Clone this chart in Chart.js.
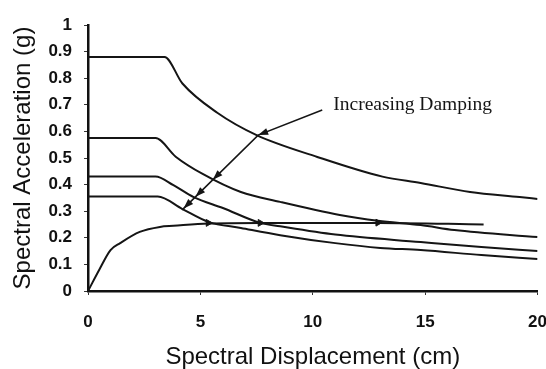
<!DOCTYPE html>
<html>
<head>
<meta charset="utf-8">
<script src="https://cdn.jsdelivr.net/npm/chart.js@4.4.1/dist/chart.umd.min.js"></script>
<style>
  html, body { margin: 0; padding: 0; background: #fff; overflow: hidden; width: 546px; height: 369px; }
  #wrap { position: absolute; left: 0; top: 0; width: 564px; height: 369px; }
</style>
</head>
<body>
<div id="wrap"><canvas id="c" width="564" height="369"></canvas></div>
<script>
// ---- data (Sd in cm, Sa in g) ----
const xTicks = [0, 5, 10, 15, 20];
const yTicks = [0, 0.1, 0.2, 0.3, 0.4, 0.5, 0.6, 0.7, 0.8, 0.9, 1];

const demand1Sd = [0, 3.4, 4.2, 5.75, 7.5, 10.2, 13.1, 14.8, 17.0, 19.2, 20];
const demand1Sa = [0.88, 0.88, 0.78, 0.67, 0.586, 0.504, 0.43, 0.406, 0.372, 0.353, 0.346];

const demand2Sd = [0, 3.0, 3.9, 5.1, 6.8, 8.55, 11.2, 12.9, 14.8, 16.3, 20];
const demand2Sa = [0.575, 0.575, 0.505, 0.44, 0.372, 0.335, 0.286, 0.264, 0.248, 0.229, 0.203];

const demand3Sd = [0, 3.0, 3.8, 4.7, 6.0, 7.66, 8.55, 11.0, 14.8, 17.5, 20];
const demand3Sa = [0.43, 0.43, 0.398, 0.353, 0.312, 0.256, 0.243, 0.212, 0.184, 0.165, 0.150];

const demand4Sd = [0, 3.1, 4.2, 5.35, 6.8, 8.55, 11.0, 13.0, 14.8, 17.5, 20];
const demand4Sa = [0.355, 0.355, 0.308, 0.26, 0.237, 0.21, 0.18, 0.162, 0.154, 0.135, 0.12];

const capacitySd = [0, 0.5, 1.0, 1.43, 2.3, 3.2, 3.8, 5.35, 7.66, 12.9, 17.6];
const capacitySa = [0, 0.08, 0.154, 0.18, 0.222, 0.241, 0.245, 0.254, 0.256, 0.256, 0.25];

const perfSd = [5.35, 7.66, 12.9];
const perfSa = [0.256, 0.256, 0.257];

const annotationText = "Increasing Damping";
const annotationAt = [10.91, 0.70];
const arrowShaft = [[10.42, 0.68], [7.57, 0.586], [4.19, 0.305]];
const arrowHeadSd = [7.57, 5.55, 4.78, 4.25];

const xTitle = "Spectral Displacement (cm)";
const yTitle = "Spectral Acceleration (g)";

// ---- build ----
const pts = (xs, ys) => xs.map((x, i) => ({ x, y: ys[i] }));
const ink = '#151515';
const lineDs = (xs, ys) => ({
  data: pts(xs, ys), showLine: true, pointRadius: 0, borderColor: ink,
  borderWidth: 2, cubicInterpolationMode: 'monotone', fill: false
});

function yOnShaft(x) {
  for (let i = 0; i < arrowShaft.length - 1; i++) {
    const [x0, y0] = arrowShaft[i], [x1, y1] = arrowShaft[i + 1];
    if ((x <= x0 && x >= x1) || (x >= x0 && x <= x1)) {
      return { y: y0 + (y1 - y0) * (x - x0) / (x1 - x0), from: [x0, y0] };
    }
  }
  return null;
}

const annotate = {
  id: 'annotate',
  afterDatasetsDraw(chart) {
    const { ctx, scales: { x, y } } = chart;
    ctx.save();
    ctx.strokeStyle = ink; ctx.fillStyle = ink; ctx.lineWidth = 1.6;
    ctx.beginPath();
    arrowShaft.forEach(([a, b], i) => {
      const px = x.getPixelForValue(a), py = y.getPixelForValue(b);
      i ? ctx.lineTo(px, py) : ctx.moveTo(px, py);
    });
    ctx.stroke();
    arrowHeadSd.forEach(sd => {
      const r = yOnShaft(sd); if (!r) return;
      const tx = x.getPixelForValue(sd), ty = y.getPixelForValue(r.y);
      const fx = x.getPixelForValue(r.from[0]), fy = y.getPixelForValue(r.from[1]);
      const ang = Math.atan2(ty - fy, tx - fx);
      const L = 10, W = 3.5;
      ctx.beginPath();
      ctx.moveTo(tx, ty);
      ctx.lineTo(tx - L * Math.cos(ang) + W * Math.sin(ang), ty - L * Math.sin(ang) - W * Math.cos(ang));
      ctx.lineTo(tx - L * Math.cos(ang) - W * Math.sin(ang), ty - L * Math.sin(ang) + W * Math.cos(ang));
      ctx.closePath(); ctx.fill();
    });
    ctx.font = '19.5px "Liberation Serif", "Times New Roman", serif';
    ctx.textBaseline = 'middle'; ctx.textAlign = 'left';
    ctx.fillText(annotationText, x.getPixelForValue(annotationAt[0]), y.getPixelForValue(annotationAt[1]));
    ctx.restore();
  }
};

const tickFont = { family: '"Liberation Sans", Arial, sans-serif', size: 17, weight: 'bold' };
const titleFont = { family: '"Liberation Sans", Arial, sans-serif', size: 24, weight: 'normal', lineHeight: 1 };

new Chart(document.getElementById('c'), {
  type: 'scatter',
  data: {
    datasets: [
      lineDs(demand1Sd, demand1Sa),
      lineDs(demand2Sd, demand2Sa),
      lineDs(demand3Sd, demand3Sa),
      lineDs(demand4Sd, demand4Sa),
      lineDs(capacitySd, capacitySa),
      { data: pts(perfSd, perfSa), showLine: false, pointStyle: 'triangle', rotation: 90,
        pointRadius: 4, backgroundColor: ink, borderColor: ink, borderWidth: 1 }
    ]
  },
  plugins: [annotate],
  options: {
    responsive: false, animation: false, devicePixelRatio: 1,
    layout: { padding: { left: 0, right: 0, top: 25, bottom: 0 } },
    plugins: { legend: { display: false }, tooltip: { enabled: false } },
    scales: {
      x: {
        type: 'linear', min: 0, max: 20,
        afterBuildTicks: s => { s.ticks = xTicks.map(v => ({ value: v })); },
        ticks: { font: tickFont, color: '#111', padding: 17, maxRotation: 0 },
        grid: { drawOnChartArea: false, drawTicks: true, tickLength: 4, color: '#333', lineWidth: 1 },
        border: { display: true, color: '#111', width: 2.5 },
        title: { display: true, text: xTitle, font: titleFont, color: '#111', padding: { top: -4.4, bottom: 0 } }
      },
      y: {
        type: 'linear', min: 0, max: 1,
        afterBuildTicks: s => { s.ticks = yTicks.map(v => ({ value: v })); },
        ticks: { font: tickFont, color: '#111', padding: 12, callback: v => String(Math.round(v * 10) / 10) },
        grid: { drawOnChartArea: false, drawTicks: true, tickLength: 4, color: '#333', lineWidth: 1 },
        border: { display: true, color: '#111', width: 2.5 },
        title: { display: true, text: yTitle, font: titleFont, color: '#111', padding: { top: 11, bottom: 1.4 } }
      }
    }
  }
});
</script>
</body>
</html>
